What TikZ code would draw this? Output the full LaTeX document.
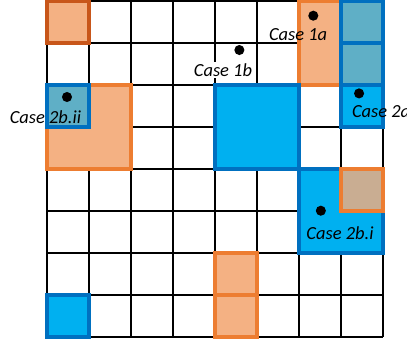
\documentclass[tikz,border=0pt]{standalone}
\usepackage{fontspec}
\setmainfont{Carlito}
\definecolor{ofill}{HTML}{F4B183}
\definecolor{oline}{HTML}{ED7D31}
\definecolor{odark}{HTML}{C8561A}
\definecolor{bfill}{HTML}{00B0F0}
\definecolor{bline}{HTML}{0070C0}
\definecolor{tfill}{HTML}{5FAFC6}
\definecolor{tanfill}{HTML}{C9AD92}
\begin{document}
\begin{tikzpicture}[
  gridline/.style={black, line width=0.9pt},
  ocell/.style={fill=ofill, draw=oline, line width=2.5pt},
  bcell/.style={fill=bfill, draw=bline, line width=2.5pt},
  tcell/.style={fill=tfill, draw=bline, line width=2.5pt},
  tancell/.style={fill=tanfill, draw=oline, line width=2.5pt},
  dotnode/.style={circle, fill=black, inner sep=0pt, minimum size=0.24cm},
  lbl/.style={font=\fontsize{12.5}{14}\selectfont\itshape, inner sep=1pt}
]
\useasboundingbox (-1.119,-0.071) rectangle (8.571,8.024);
\draw[gridline] (0,0) grid (8,8);
% Case 2b.ii
\draw[ocell] (0,4) rectangle (2,6);
\draw[tcell] (0,5) rectangle (1,6);
% top-left
\draw[ocell, draw=odark] (0,7) rectangle (1,8);
% Case 1a
\draw[ocell] (6,6) rectangle (7,8);
\draw[tcell] (7,7) rectangle (8,8);
\draw[tcell] (7,6) rectangle (8,7);
% Case 2a
\draw[bcell] (7,5) rectangle (8,6);
% big blue
\draw[bcell] (4,4) rectangle (6,6);
% Case 2b.i
\draw[bcell] (6,2) rectangle (8,4);
\draw[tancell] (7,3) rectangle (8,4);
% bottom cells
\draw[ocell] (4,1) rectangle (5,2);
\draw[ocell] (4,0) rectangle (5,1);
\draw[bcell] (0,0) rectangle (1,1);
% dots
\node[dotnode] (d1a) at (6.34,7.65) {};
\node[dotnode] (d1b) at (4.58,6.833) {};
\node[dotnode] (d2a) at (7.43,5.80) {};
\node[dotnode] (d2bi) at (6.52,3.007) {};
\node[dotnode] (d2bii) at (0.476,5.714) {};
% labels
\node[lbl] (l1a) at (5.98,7.21) {Case 1a};
\node[lbl, fill=white] (l1b) at (4.19,6.357) {Case 1b};
\node[lbl, anchor=west] (l2a) at (7.22,5.364) {Case 2a};
\node[lbl] (l2bi) at (6.976,2.469) {Case 2b.i};
\node[lbl] (l2bii) at (-0.036,5.238) {Case 2b.ii};
\end{tikzpicture}
\end{document}
